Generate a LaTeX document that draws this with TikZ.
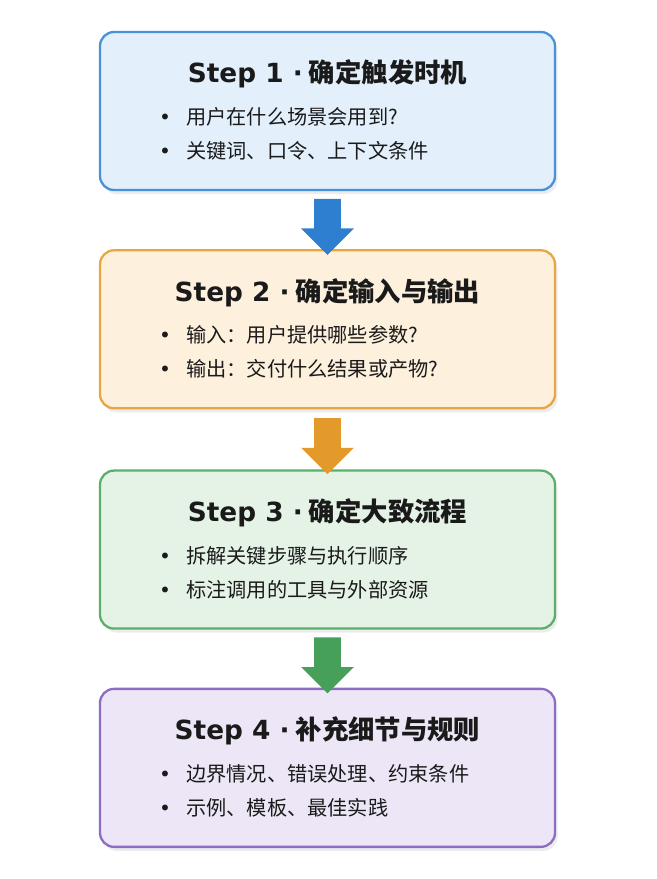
\documentclass[tikz,border=0pt]{standalone}
\usepackage{fontspec}
\setmainfont{Noto Sans CJK SC}
\newfontfamily\latinfont{DejaVu Sans}
\usetikzlibrary{positioning,shapes.arrows,shadows}
\definecolor{blueline}{HTML}{4A90D9}
\definecolor{bluefill}{HTML}{E3F0FB}
\definecolor{bluearrow}{HTML}{2F7FD0}
\definecolor{orangeline}{HTML}{E8A640}
\definecolor{orangefill}{HTML}{FDF0DC}
\definecolor{orangearrow}{HTML}{E49A2A}
\definecolor{greenline}{HTML}{5CAF6A}
\definecolor{greenfill}{HTML}{E5F3E6}
\definecolor{greenarrow}{HTML}{47A05A}
\definecolor{purpleline}{HTML}{8E6CC4}
\definecolor{purplefill}{HTML}{EDE6F6}
\definecolor{textcol}{HTML}{1A1A1A}
\newcommand{\bul}{{\latinfont\textbullet}\hspace{0.75em}}
\newcommand{\stepno}[1]{{\latinfont Step #1 ·} }

\begin{document}
\begin{tikzpicture}[
node distance = 1.2cm,
every node/.style = {
	text = textcol
},
stepbox/.style = {
	draw,
	line width = 1.3pt,
	rounded corners = 8pt,
	minimum width = 9.1cm,
	minimum height = 3.16cm,
	drop shadow = {opacity=0.15, shadow xshift=0.5mm, shadow yshift=-0.8mm}
},
steptitle/.style = {
	font = \fontsize{15}{18}\selectfont\bfseries
},
bullet/.style = {
	font = \fontsize{11.5}{14}\selectfont,
	anchor = west,
	inner sep = 0pt
},
flow/.style = {
	single arrow,
	shape border rotate = 270,
	minimum height = 1.12cm,
	inner sep = 0.26cm,
	single arrow head extend = 0.26cm,
	single arrow tip angle = 90
}
]
\useasboundingbox (0,0) rectangle (13.12,-17.58);

\node [stepbox, draw=blueline, fill=bluefill] (s1) at (6.55,-2.22) {};
\node [stepbox, draw=orangeline, fill=orangefill, below = 1.16cm of s1] (s2) {};
\node [stepbox, draw=greenline, fill=greenfill, below = 1.2cm of s2] (s3) {};
\node [stepbox, draw=purpleline, fill=purplefill, below = 1.16cm of s3] (s4) {};

% step 1
\node [steptitle, below = 0.46cm of s1.north] (t1) {\stepno{1}确定触发时机};
\node [bullet] (b11) at ([xshift=1.2cm, yshift=-1.72cm] s1.north west) {\bul 用户在什么场景会用到?};
\node [bullet] (b12) at ([xshift=1.2cm, yshift=-2.40cm] s1.north west) {\bul 关键词、口令、上下文条件};

% step 2
\node [steptitle, below = 0.46cm of s2.north] (t2) {\stepno{2}确定输入与输出};
\node [bullet] (b21) at ([xshift=1.2cm, yshift=-1.72cm] s2.north west) {\bul 输入：用户提供哪些参数?};
\node [bullet] (b22) at ([xshift=1.2cm, yshift=-2.40cm] s2.north west) {\bul 输出：交付什么结果或产物?};

% step 3
\node [steptitle, below = 0.46cm of s3.north] (t3) {\stepno{3}确定大致流程};
\node [bullet] (b31) at ([xshift=1.2cm, yshift=-1.72cm] s3.north west) {\bul 拆解关键步骤与执行顺序};
\node [bullet] (b32) at ([xshift=1.2cm, yshift=-2.40cm] s3.north west) {\bul 标注调用的工具与外部资源};

% step 4
\node [steptitle, below = 0.46cm of s4.north] (t4) {\stepno{4}补充细节与规则};
\node [bullet] (b41) at ([xshift=1.2cm, yshift=-1.72cm] s4.north west) {\bul 边界情况、错误处理、约束条件};
\node [bullet] (b42) at ([xshift=1.2cm, yshift=-2.40cm] s4.north west) {\bul 示例、模板、最佳实践};

% connectors
\path (s1.south) -- (s2.north) node [midway, flow, fill=bluearrow] (a12) {};
\path (s2.south) -- (s3.north) node [midway, flow, fill=orangearrow] (a23) {};
\path (s3.south) -- (s4.north) node [midway, flow, fill=greenarrow] (a34) {};

\end{tikzpicture}
\end{document}
